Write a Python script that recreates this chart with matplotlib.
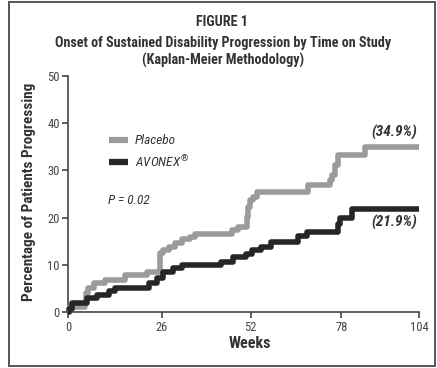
import numpy as np
import matplotlib
matplotlib.use("Agg")
import matplotlib.pyplot as plt
from matplotlib.patches import Rectangle

plt.rcParams["font.family"] = ["Roboto Condensed", "DejaVu Sans"]

# data (weeks, % progressing after the step)
placebo_weeks = [0, 0.5, 4.7, 5.0, 5.5, 7.1, 10.3, 15.9, 21.9, 25.4, 26.5, 28.0, 29.9,
                 31.8, 34.3, 35.7, 46.4, 48.3, 50.8, 51.2, 51.8, 52.7, 53.7, 68.5,
                 74.8, 75.3, 76.2, 77.1, 85.9, 104]
placebo_pct = [0, 1.2, 2.2, 4.1, 5.1, 6.1, 6.8, 7.9, 8.6, 12.5, 13.2, 13.9, 14.6,
               15.4, 16.0, 16.5, 17.4, 18.1, 20.2, 22.3, 23.7, 24.4, 25.4, 26.9,
               28.0, 29.0, 31.1, 33.2, 34.9, 34.9]

avonex_weeks = [0, 0.3, 1.0, 5.2, 8.0, 11.2, 13.1, 22.4, 24.7, 26.5, 29.4, 31.9,
                43.3, 46.7, 50.5, 52.4, 54.9, 57.8, 65.6, 68.2, 77.0, 77.6, 81.6, 104]
avonex_pct = [0, 0.8, 1.9, 3.0, 3.7, 4.4, 5.1, 6.1, 7.3, 8.5, 9.3, 10.0,
              10.6, 11.6, 12.3, 13.2, 13.9, 14.9, 16.2, 17.0, 18.6, 20.0, 21.9, 21.9]

week_ticks = [0, 26, 52, 78, 104]
pct_ticks = [0, 10, 20, 30, 40, 50]

# the printed week axis is not evenly spaced; follow its tick spacing
tick_pos = [0, 93.4, 182.4, 273.0, 350.7]
wk_a = [-1000] + week_ticks + [1104]
ps_a = [-1000 * 3.59] + tick_pos + [350.7 + 1000 * 2.99]


def fwd(x):
    return np.interp(x, wk_a, ps_a)


def inv(p):
    return np.interp(p, ps_a, wk_a)


TXT = "#333333"
fig = plt.figure(figsize=(4.37, 3.68), dpi=100)
fig.patch.set_facecolor("white")
fig.patches.append(Rectangle((9 / 437, 2 / 368), 426 / 437, 364 / 368, transform=fig.transFigure,
                             fill=False, edgecolor="#555555", linewidth=1.4))

ax = fig.add_axes([68.3 / 437, 1 - 312.3 / 368, (419 - 68.3) / 437, (312.3 - 75.7) / 368])
ax.set_xscale("function", functions=(fwd, inv))
ax.step(placebo_weeks, placebo_pct, where="post", color="#9b9b9b", lw=4.0,
        solid_capstyle="butt", clip_on=False, zorder=3)
ax.step(avonex_weeks, avonex_pct, where="post", color="#262626", lw=4.0,
        solid_capstyle="butt", clip_on=False, zorder=4)

ax.set_xlim(0, 104)
ax.set_ylim(0, 50)
ax.set_xticks(week_ticks)
ax.set_xticklabels([str(w) for w in week_ticks])
ax.set_yticks(pct_ticks)
ax.minorticks_off()
for s in ["top", "right"]:
    ax.spines[s].set_visible(False)
for s in ["left", "bottom"]:
    ax.spines[s].set_color("#444444")
    ax.spines[s].set_linewidth(1.2)
ax.tick_params(colors="#444444", labelcolor="#444444", labelsize=9, length=4, width=1.2, pad=2)

# legend drawn by hand like the print
ax.plot([11.3, 16.6], [36.4, 36.4], color="#9b9b9b", lw=4.5, solid_capstyle="butt")
ax.plot([11.3, 16.6], [31.8, 31.8], color="#262626", lw=4.5, solid_capstyle="butt")
ax.text(18.5, 36.4, "Placebo", style="italic", fontsize=9.5, color=TXT, va="center")
ax.text(18.5, 31.8, "AVONEX$^{\\circledR}$", style="italic", fontsize=9.5, color=TXT, va="center")
ax.text(11.1, 23.7, "P = 0.02", style="italic", fontsize=9.5, color=TXT, va="center")

ax.text(103.5, 38.0, "(34.9%)", style="italic", weight="bold", fontsize=11, color=TXT,
        ha="right", va="center")
ax.text(103.5, 19.0, "(21.9%)", style="italic", weight="bold", fontsize=11, color=TXT,
        ha="right", va="center")

fig.text(222 / 437, 1 - 22.5 / 368, "FIGURE 1", weight="bold", fontsize=10.2, color=TXT,
         ha="center", va="center")
fig.text(223 / 437, 1 - 42.5 / 368, "Onset of Sustained Disability Progression by Time on Study",
         weight="bold", fontsize=10.2, color=TXT, ha="center", va="center")
fig.text(223 / 437, 1 - 60 / 368, "(Kaplan-Meier Methodology)", weight="bold", fontsize=10.2,
         color=TXT, ha="center", va="center")
fig.text(29 / 437, 1 - 192 / 368, "Percentage of Patients Progressing", weight="bold",
         fontsize=11, color=TXT, ha="center", va="center", rotation=90)
fig.text(250 / 437, 1 - 344 / 368, "Weeks", weight="bold", fontsize=11.5, color=TXT,
         ha="center", va="center")

fig.savefig("out.png", dpi=100, facecolor="white")
